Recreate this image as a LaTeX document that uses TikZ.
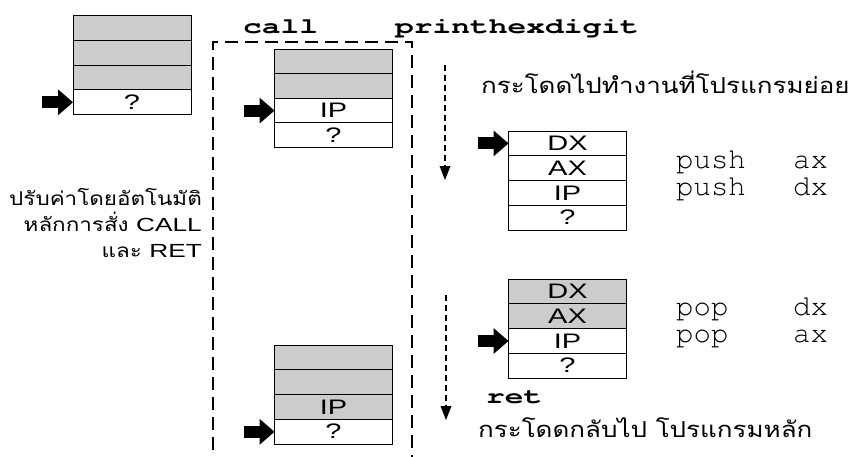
\documentclass[tikz,border=0pt]{standalone}
\usepackage{fontspec}
\setmainfont{Liberation Sans}[FakeStretch=1.38]
\newfontfamily\thai{Loma}[Script=Thai,FakeStretch=1.18]
\newfontfamily\asm{TeX Gyre Cursor}[FakeStretch=1.42]
\newfontfamily\asmlist{TeX Gyre Cursor}
\usetikzlibrary{arrows.meta}
\usetikzlibrary{positioning}

\begin{document}
\begin{tikzpicture}[x=1pt,y=-1pt,
    cell/.style={draw, line width=1pt, fill=white, minimum width=118pt, minimum height=24.8pt,
      inner sep=0pt, outer sep=0pt, anchor=north, text height=14pt, text depth=-7pt,
      font=\fontsize{21}{24}\selectfont},
    used/.style={cell, fill=black!20},
    ptr/.style={line width=12pt, -{Triangle[length=15pt,width=26pt,line width=0pt]}},
    flow/.style={line width=2.2pt, dash pattern=on 6pt off 4pt,
      -{Triangle[length=14pt,width=11pt,line width=0pt]}},
    frame/.style={line width=2pt, dash pattern=on 13pt off 7pt},
    label/.style={inner sep=0pt, anchor=base west},
    op/.style={label, font=\asm\bfseries\fontsize{22}{24}\selectfont},
    code/.style={label, font=\asmlist\fontsize{29}{30}\selectfont},
    note/.style={label, font=\thai\fontsize{22}{26}\selectfont}]
    \useasboundingbox (0,0) rectangle (856,456);
    \clip (0,0) rectangle (856,456);

    % stack before the call
    \foreach \i/\s/\t in {1/used/{},2/used/{},3/used/{},4/cell/?}
        \node[\s] (a\i) at (132,{15.5+24.8*(\i-1)}) {\t};
    \draw[ptr] ([xshift=-31pt]a4.west) -- (a4.west);

    % after call: return address pushed
    \foreach \i/\s/\t in {1/used/{},2/used/{},3/cell/IP,4/cell/?}
        \node[\s] (b\i) at (333.5,{49+24.6*(\i-1)}) {\t};
    \draw[ptr] ([xshift=-31pt]b3.west) -- (b3.west);

    % inside the subroutine
    \foreach \i/\s/\t in {1/cell/DX,2/cell/AX,3/cell/IP,4/cell/?}
        \node[\s] (c\i) at (567.5,{131+24.8*(\i-1)}) {\t};
    \draw[ptr] ([xshift=-31pt]c1.west) -- (c1.west);

    \foreach \i/\s/\t in {1/used/DX,2/used/AX,3/cell/IP,4/cell/?}
        \node[\s] (d\i) at (567.5,{279+24.8*(\i-1)}) {\t};
    \draw[ptr] ([xshift=-31pt]d3.west) -- (d3.west);

    % back in the main program
    \foreach \i/\s/\t in {1/used/{},2/used/{},3/used/IP,4/cell/?}
        \node[\s] (e\i) at (333.5,{345+24.8*(\i-1)}) {\t};
    \draw[ptr] ([xshift=-31pt]e4.west) -- (e4.west);

    \draw[frame] (213,470) |- (412,42) -- (412,470);

    \node[op] (call) at (243,33) {call};
    \node[op] (proc) at (395,33) {printhexdigit};
    \node[note] (jump) at (481,93) {กระโดดไปทำงานที่โปรแกรมย่อย};

    \node[code] (push1) at (676,168) {\makebox[117pt][l]{push}ax};
    \node[code] (push2) at (676,195) {\makebox[117pt][l]{push}dx};
    \node[code] (pop1) at (676,315) {\makebox[117pt][l]{pop}dx};
    \node[code] (pop2) at (676,342) {\makebox[117pt][l]{pop}ax};

    \node[op] (ret) at (486,403) {ret};
    \node[note] (back) at (478,437) {กระโดดกลับไป โปรแกรมหลัก};

    \node[inner sep=0pt, anchor=north east, align=right,
        font=\thai\fontsize{19}{26}\selectfont] (auto) at (202,188)
        {ปรับค่าโดยอัตโนมัติ\\หลักการสั่ง {\rmfamily CALL}\\และ {\rmfamily RET}};

    \coordinate (go1) at (445,65);
    \coordinate (go2) at (445,180);
    \coordinate (back1) at (446,295);
    \coordinate (back2) at (446,420);
    \draw[flow] (go1) -- (go2);
    \draw[flow] (back1) -- (back2);
\end{tikzpicture}
\end{document}
